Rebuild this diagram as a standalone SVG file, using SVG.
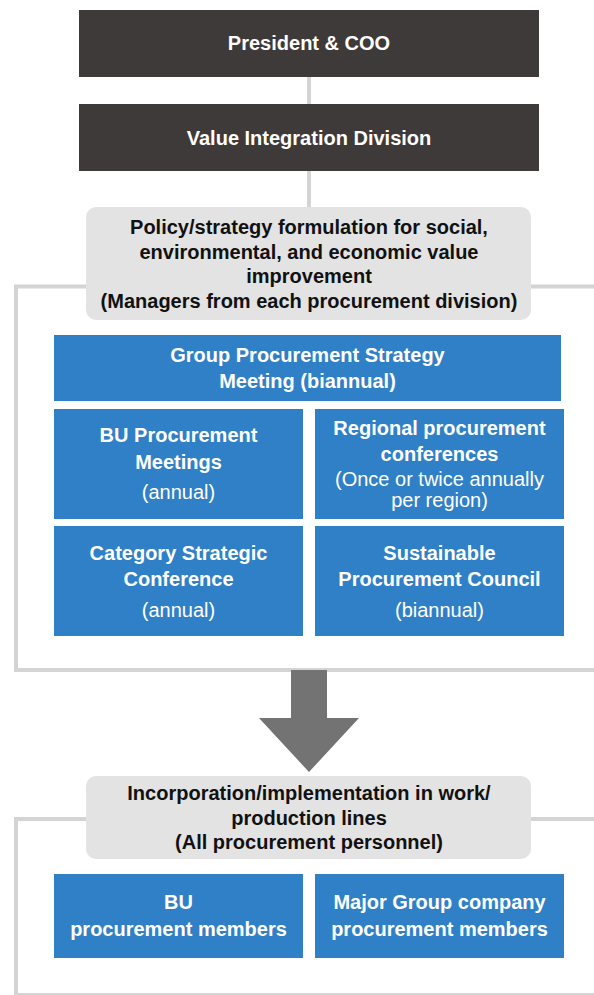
<svg xmlns="http://www.w3.org/2000/svg" width="594" height="995" viewBox="0 0 594 995">
<style>
.dark{fill:#3e3a39}
.gray{fill:#e3e3e3}
.blue{fill:#2f80c6}
.frame{fill:none;stroke:#d4d4d4;stroke-width:4}
.line{stroke:#d4d4d4;stroke-width:4;fill:none}
text{font-family:"Liberation Sans",Arial,sans-serif;font-size:20px;text-anchor:middle}
.w{fill:#ffffff}
.b{fill:#111111}
.t{font-weight:bold}
</style>
<rect width="594" height="995" fill="#ffffff"/>
<g id="connectors">
<rect class="frame" x="16" y="286.5" width="700" height="383.5"/>
<rect class="frame" x="16" y="819" width="700" height="176"/>
<line class="line" x1="309" y1="77" x2="309" y2="104"/>
<line class="line" x1="309" y1="171" x2="309" y2="207"/>
<polygon fill="#737373" points="291,670 327,670 327,718 359,718 309,772 259,718 291,718"/>
</g>
<g id="president">
<rect class="dark" x="79" y="10" width="460" height="67"/>
<text class="w t" x="309" y="50">President &amp; COO</text>
</g>
<g id="vid">
<rect class="dark" x="79" y="104" width="460" height="67"/>
<text class="w t" x="309" y="145">Value Integration Division</text>
</g>
<g id="policy">
<rect class="gray" x="86" y="207" width="445" height="113" rx="10"/>
<text class="b t" x="309" y="234">Policy/strategy formulation for social,</text>
<text class="b t" x="309" y="258.5">environmental, and economic value</text>
<text class="b t" x="309" y="283">improvement</text>
<text class="b t" x="309" y="307.5">(Managers from each procurement division)</text>
</g>
<g id="group-meeting">
<rect class="blue" x="54" y="335" width="507" height="66"/>
<text class="w t" x="307.5" y="362">Group Procurement Strategy</text>
<text class="w t" x="307.5" y="388">Meeting (biannual)</text>
</g>
<g id="bu-meetings">
<rect class="blue" x="54" y="409" width="249" height="110"/>
<text class="w t" x="178.5" y="442">BU Procurement</text>
<text class="w t" x="178.5" y="469">Meetings</text>
<text class="w" x="178.5" y="499">(annual)</text>
</g>
<g id="regional">
<rect class="blue" x="315" y="409" width="249" height="110"/>
<text class="w t" x="439.5" y="435">Regional procurement</text>
<text class="w t" x="439.5" y="461">conferences</text>
<text class="w" x="439.5" y="486">(Once or twice annually</text>
<text class="w" x="439.5" y="507">per region)</text>
</g>
<g id="category">
<rect class="blue" x="54" y="526" width="249" height="110"/>
<text class="w t" x="178.5" y="560">Category Strategic</text>
<text class="w t" x="178.5" y="586">Conference</text>
<text class="w" x="178.5" y="617">(annual)</text>
</g>
<g id="sustainable">
<rect class="blue" x="315" y="526" width="249" height="110"/>
<text class="w t" x="439.5" y="560">Sustainable</text>
<text class="w t" x="439.5" y="586">Procurement Council</text>
<text class="w" x="439.5" y="617">(biannual)</text>
</g>
<g id="incorporation">
<rect class="gray" x="86" y="776" width="445" height="83" rx="10"/>
<text class="b t" x="309" y="800">Incorporation/implementation in work/</text>
<text class="b t" x="309" y="824.5">production lines</text>
<text class="b t" x="309" y="849">(All procurement personnel)</text>
</g>
<g id="bu-members">
<rect class="blue" x="54" y="874" width="249" height="84"/>
<text class="w t" x="178.5" y="909">BU</text>
<text class="w t" x="178.5" y="936">procurement members</text>
</g>
<g id="major-group">
<rect class="blue" x="315" y="874" width="249" height="84"/>
<text class="w t" x="439.5" y="909">Major Group company</text>
<text class="w t" x="439.5" y="936">procurement members</text>
</g>
</svg>
